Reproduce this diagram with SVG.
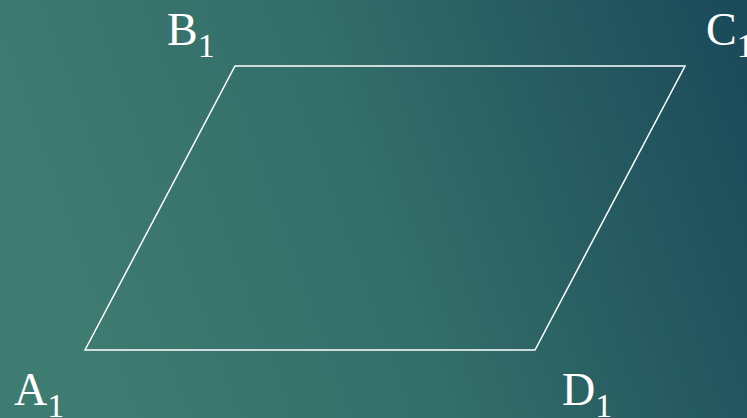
<svg xmlns="http://www.w3.org/2000/svg" width="747" height="418" viewBox="0 0 747 418">
<defs>
<linearGradient id="bg" x1="0" y1="0.3" x2="1" y2="0.1">
<stop offset="0" stop-color="#3e7b71"/>
<stop offset="0.45" stop-color="#336e69"/>
<stop offset="1" stop-color="#1b4a5a"/>
</linearGradient>
<style>
.lbl{font-family:"Liberation Serif","DejaVu Serif",serif;font-size:46px;fill:#ffffff}
.sub{font-size:34px}
</style>
</defs>
<rect x="0" y="0" width="747" height="418" fill="url(#bg)"/>
<g id="connectors">
<polygon points="85,350 235,66 685,66 535,350" fill="none" stroke="#ffffff" stroke-width="1.5"/>
</g>
<g id="A1"><text class="lbl" x="14" y="405">A<tspan class="sub" dy="12">1</tspan></text></g>
<g id="B1"><text class="lbl" x="167" y="45">B<tspan class="sub" dy="12">1</tspan></text></g>
<g id="C1"><text class="lbl" x="706" y="45">C<tspan class="sub" dy="12">1</tspan></text></g>
<g id="D1"><text class="lbl" x="562" y="405">D<tspan class="sub" dy="12">1</tspan></text></g>
</svg>
